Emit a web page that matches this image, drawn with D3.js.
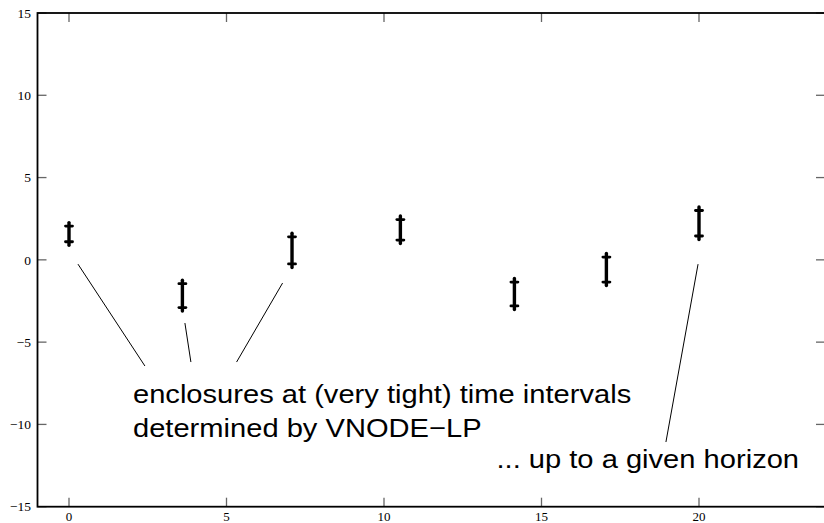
<!DOCTYPE html>
<html>
<head>
<meta charset="utf-8">
<script src="https://cdn.jsdelivr.net/npm/d3@7"></script>
<style>
  html, body { margin: 0; padding: 0; background: #fff; }
  svg { display: block; }
</style>
</head>
<body>
<svg id="chart" width="824" height="523"></svg>
<script>
// Enclosure times and their lower / upper bounds
const times  = [0, 3.6, 7.08, 10.52, 14.14, 17.06, 20];
const lower  = [1.1, -2.9, -0.25, 1.2, -2.8, -1.35, 1.45];
const upper  = [2.05, -1.45, 1.4, 2.45, -1.35, 0.17, 3.0];

const xTicks = [0, 5, 10, 15, 20];
const yTicks = [-15, -10, -5, 0, 5, 10, 15];

// Leader lines from the captions to the enclosures (data coordinates)
const leaderX1 = [0.285, 3.68, 6.78, 19.97];
const leaderY1 = [-0.26, -3.84, -1.41, -0.26];
const leaderX2 = [2.41, 3.87, 5.32, 18.95];
const leaderY2 = [-6.45, -6.21, -6.21, -11.07];

// Captions, anchored (left end of baseline) in data coordinates
const captionText = [
  "enclosures at (very tight) time intervals",
  "determined by VNODE\u2212LP",
  "... up to a given horizon"
];
const captionX = [2.03, 2.03, 13.57];
const captionY = [-8.72, -10.78, -12.66];

const svg = d3.select("#chart");
const plotLeft = 37.5, plotRight = 825, plotTop = 13, plotBottom = 506.7;

const x = d3.scaleLinear().domain([-1, 24]).range([plotLeft, plotRight]);
const y = d3.scaleLinear().domain([-15, 15]).range([plotBottom, plotTop]);

const tickFont = "'Liberation Serif', 'Times New Roman', serif";
const tickLen = 9;
const tickColor = "#666";

// Tick marks on all four sides, pointing inward
const gTicks = svg.append("g").attr("stroke", tickColor).attr("stroke-width", 1.3);
xTicks.forEach(v => {
  gTicks.append("line").attr("x1", x(v)).attr("x2", x(v)).attr("y1", plotBottom).attr("y2", plotBottom - tickLen);
  gTicks.append("line").attr("x1", x(v)).attr("x2", x(v)).attr("y1", plotTop).attr("y2", plotTop + tickLen);
});
yTicks.forEach(v => {
  gTicks.append("line").attr("x1", plotLeft).attr("x2", plotLeft + tickLen).attr("y1", y(v)).attr("y2", y(v));
  gTicks.append("line").attr("x1", plotRight).attr("x2", plotRight - tickLen).attr("y1", y(v)).attr("y2", y(v));
});

// Frame
svg.append("rect")
  .attr("x", plotLeft).attr("y", plotTop)
  .attr("width", plotRight - plotLeft).attr("height", plotBottom - plotTop)
  .attr("fill", "none").attr("stroke", "#000").attr("stroke-width", 1.8);

// Tick labels
const fmt = v => (v < 0 ? "\u2212" + Math.abs(v) : String(v));
svg.append("g").selectAll("text").data(yTicks).join("text")
  .attr("x", 31).attr("y", d => y(d)).attr("dy", "0.35em")
  .attr("text-anchor", "end")
  .attr("font-family", tickFont).attr("font-size", 13.5)
  .text(fmt);
svg.append("g").selectAll("text").data(xTicks).join("text")
  .attr("x", d => x(d)).attr("y", 520.5)
  .attr("text-anchor", "middle")
  .attr("font-family", tickFont).attr("font-size", 13)
  .text(fmt);

// Enclosure bars
const enclosures = times.map((t, i) => ({ t, lo: lower[i], hi: upper[i] }));
const gBars = svg.append("g").attr("stroke", "#000").attr("stroke-linecap", "round");
gBars.selectAll("line.stem").data(enclosures).join("line")
  .attr("class", "stem")
  .attr("x1", d => x(d.t)).attr("x2", d => x(d.t))
  .attr("y1", d => y(d.hi) - 3.5).attr("y2", d => y(d.lo) + 3.5)
  .attr("stroke-width", 3.4);
gBars.selectAll("line.capHi").data(enclosures).join("line")
  .attr("class", "capHi")
  .attr("x1", d => x(d.t) - 3.5).attr("x2", d => x(d.t) + 3.5)
  .attr("y1", d => y(d.hi)).attr("y2", d => y(d.hi))
  .attr("stroke-width", 2.8);
gBars.selectAll("line.capLo").data(enclosures).join("line")
  .attr("class", "capLo")
  .attr("x1", d => x(d.t) - 3.5).attr("x2", d => x(d.t) + 3.5)
  .attr("y1", d => y(d.lo)).attr("y2", d => y(d.lo))
  .attr("stroke-width", 2.8);

// Leader lines
svg.append("g").selectAll("line").data(leaderX1.map((_, i) => i)).join("line")
  .attr("x1", i => x(leaderX1[i])).attr("y1", i => y(leaderY1[i]))
  .attr("x2", i => x(leaderX2[i])).attr("y2", i => y(leaderY2[i]))
  .attr("stroke", "#000").attr("stroke-width", 1);

// Captions: slightly wide lettering, stretched horizontally
const stretch = 1.12;
svg.append("g").selectAll("text").data(captionText).join("text")
  .attr("transform", (d, i) => `translate(${x(captionX[i])},${y(captionY[i])}) scale(${stretch},1)`)
  .attr("font-family", "'Liberation Sans', Arial, Helvetica, sans-serif")
  .attr("font-size", 26)
  .attr("fill", "#000")
  .text(d => d);
</script>
</body>
</html>
